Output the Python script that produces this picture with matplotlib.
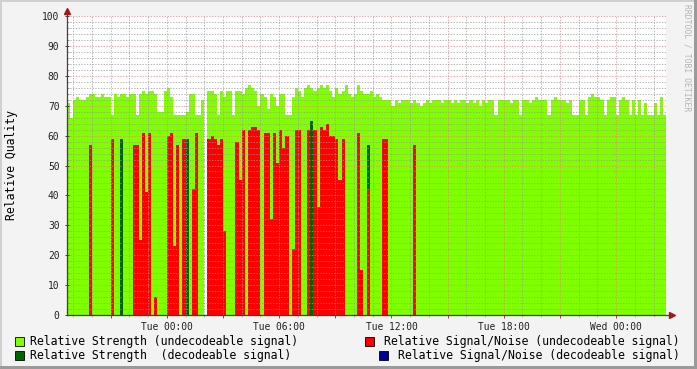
import matplotlib
matplotlib.use('Agg')
import matplotlib.pyplot as plt
import matplotlib.dates as mdates
from matplotlib.patches import Rectangle
from matplotlib.ticker import MultipleLocator, FuncFormatter
from datetime import datetime, timedelta

plt.rcParams['font.family'] = 'DejaVu Sans Mono'

# samples every 10 minutes, starting Mon 18:40
start = datetime(2024, 1, 1, 18, 40)
step_min = 10

strength_undec = [
    71, 66, 72, 73, 72, 72, 73, 74, 74, 73,
    73, 74, 73, 73, 67, 74, 73, 74, 74, 73,
    74, 74, 67, 74, 75, 74, 75, 75, 74, 68,
    68, 75, 76, 73, 67, 67, 67, 67, 68, 74,
    74, 67, 67, 72, 0, 75, 75, 74, 67, 75,
    73, 75, 75, 67, 75, 75, 74, 76, 77, 76,
    75, 70, 74, 73, 69, 74, 73, 70, 74, 74,
    67, 67, 73, 76, 75, 73, 76, 77, 76, 75,
    76, 77, 76, 77, 75, 73, 76, 74, 75, 77,
    74, 73, 74, 77, 75, 74, 74, 75, 73, 74,
    73, 72, 72, 72, 70, 72, 71, 72, 72, 72,
    71, 72, 71, 70, 71, 72, 71, 72, 72, 72,
    71, 72, 72, 71, 72, 71, 72, 72, 71, 72,
    71, 72, 70, 72, 71, 72, 72, 67, 72, 72,
    72, 72, 71, 72, 72, 67, 72, 72, 71, 72,
    73, 72, 72, 72, 67, 72, 73, 72, 72, 72,
    71, 72, 67, 67, 72, 72, 67, 73, 74, 73,
    73, 72, 67, 72, 73, 73, 67, 72, 73, 72,
    67, 72, 67, 72, 67, 71, 67, 67, 71, 67,
    73, 67,
]

snr_undec = [
    0, 0, 0, 0, 0, 0, 0, 57, 0, 0,
    0, 0, 0, 0, 59, 0, 0, 0, 0, 0,
    0, 57, 57, 25, 61, 41, 61, 0, 6, 0,
    0, 0, 60, 61, 23, 57, 0, 59, 0, 0,
    42, 61, 0, 0, 0, 59, 60, 59, 57, 59,
    28, 0, 0, 0, 58, 45, 62, 0, 62, 63,
    63, 62, 0, 61, 61, 32, 61, 51, 62, 56,
    60, 0, 22, 62, 62, 0, 0, 62, 0, 62,
    36, 63, 62, 64, 60, 60, 59, 45, 59, 0,
    0, 0, 0, 61, 15, 0, 42, 0, 0, 0,
    0, 59, 59, 0, 0, 0, 0, 0, 0, 0,
    0, 57, 0, 0, 0, 0, 0, 0, 0, 0,
    0, 0, 0, 0, 0, 0, 0, 0, 0, 0,
    0, 0, 0, 0, 0, 0, 0, 0, 0, 0,
    0, 0, 0, 0, 0, 0, 0, 0, 0, 0,
    0, 0, 0, 0, 0, 0, 0, 0, 0, 0,
    0, 0, 0, 0, 0, 0, 0, 0, 0, 0,
    0, 0, 0, 0, 0, 0, 0, 0, 0, 0,
    0, 0, 0, 0, 0, 0, 0, 0, 0, 0,
    0, 0,
]

strength_dec = [
    0, 0, 0, 0, 0, 0, 0, 0, 0, 0,
    0, 0, 0, 0, 0, 0, 0, 59, 0, 0,
    0, 0, 0, 0, 0, 0, 0, 0, 0, 0,
    0, 0, 0, 0, 0, 0, 0, 0, 59, 0,
    0, 0, 0, 0, 0, 0, 0, 0, 0, 0,
    0, 0, 0, 0, 0, 0, 0, 0, 0, 0,
    0, 0, 0, 0, 0, 0, 0, 0, 0, 0,
    0, 0, 0, 0, 0, 0, 0, 0, 65, 0,
    0, 0, 0, 0, 0, 0, 0, 0, 0, 0,
    0, 0, 0, 0, 0, 0, 57, 0, 0, 0,
    0, 0, 0, 0, 0, 0, 0, 0, 0, 0,
    0, 0, 0, 0, 0, 0, 0, 0, 0, 0,
    0, 0, 0, 0, 0, 0, 0, 0, 0, 0,
    0, 0, 0, 0, 0, 0, 0, 0, 0, 0,
    0, 0, 0, 0, 0, 0, 0, 0, 0, 0,
    0, 0, 0, 0, 0, 0, 0, 0, 0, 0,
    0, 0, 0, 0, 0, 0, 0, 0, 0, 0,
    0, 0, 0, 0, 0, 0, 0, 0, 0, 0,
    0, 0, 0, 0, 0, 0, 0, 0, 0, 0,
    0, 0,
]

labels = ['Relative Strength (undecodeable signal)',
          'Relative Signal/Noise (undecodeable signal)',
          'Relative Strength  (decodeable signal)',
          'Relative Signal/Noise (decodeable signal)']
c_light = '#80ff00'
c_red = '#ff0000'
c_dark = '#006400'
c_blue = '#00009c'

W, H = 697, 369
n = len(strength_undec)
edges = mdates.date2num([start + timedelta(minutes=step_min * i) for i in range(n + 1)])

fig = plt.figure(figsize=(W / 100, H / 100), dpi=100, facecolor='#f3f3f3')
ax = fig.add_axes([67 / W, 1 - 315 / H, 599 / W, 299 / H])
ax.set_facecolor('white')

ax.stairs(strength_undec, edges, fill=True, color=c_light, lw=0, zorder=1)
ax.stairs(strength_dec, edges, fill=True, color=c_dark, lw=0, zorder=1.1)
ax.stairs(snr_undec, edges, fill=True, color=c_red, lw=0, zorder=1.2)

ax.set_xlim(edges[0], edges[-1])
ax.set_ylim(0, 100)

ax.xaxis.set_major_locator(mdates.HourLocator(byhour=range(0, 24, 3)))
ax.xaxis.set_minor_locator(mdates.HourLocator())
ax.xaxis.set_major_formatter(FuncFormatter(
    lambda v, p: mdates.num2date(v).strftime('%a %H:%M') if mdates.num2date(v).hour % 6 == 0 else ''))
ax.yaxis.set_major_locator(MultipleLocator(10))
ax.yaxis.set_minor_locator(MultipleLocator(2))

# dotted grid drawn over the areas, like rrdtool
ax.set_axisbelow(False)
ax.grid(which='major', color=(0.95, 0.5, 0.5, 0.45), linestyle=(0, (2, 2)), lw=0.5)
ax.grid(which='minor', color=(0.6, 0.6, 0.6, 0.4), linestyle=(0, (2, 2)), lw=0.5)

ax.tick_params(axis='y', which='major', length=3, width=0.7, direction='inout',
               color='#404040', pad=4, labelsize=6.9, labelcolor='#222222')
ax.tick_params(axis='y', which='minor', length=1.5, width=0.6, direction='in', color='#909090')
ax.tick_params(axis='x', which='major', length=2.2, width=0.7, direction='out',
               color='#a04040', pad=2.5, labelsize=6.9, labelcolor='#222222')
ax.tick_params(axis='x', which='minor', length=1.2, width=0.5, direction='out', color='#a0a0a0')
for s in ax.spines.values():
    s.set_visible(False)

# axis lines with arrows
ax.plot([0, 0], [0, 1.02], transform=ax.transAxes, color='#404040', lw=0.9, clip_on=False, zorder=5)
ax.plot([0, 1.01], [0, 0], transform=ax.transAxes, color='#404040', lw=0.9, clip_on=False, zorder=5)
ax.plot([0], [1.018], marker='^', ms=4.2, color='#a01818', transform=ax.transAxes, clip_on=False, zorder=6)
ax.plot([1.01], [0], marker='>', ms=4.2, color='#a01818', transform=ax.transAxes, clip_on=False, zorder=6)

fig.text(12 / W, 1 - 165 / H, 'Relative Quality', rotation=90, va='center', ha='center', fontsize=8.3)
fig.text(687 / W, 1 - 4 / H, 'RRDTOOL / TOBI OETIKER', rotation=270, va='top', ha='center',
         fontsize=5.8, color='#b4b4b4')

# legend
rows = [341, 355]
items = [(15, rows[0], c_light, labels[0], 'left', 30),
         (365, rows[0], c_red, labels[1], 'right', 680),
         (15, rows[1], c_dark, labels[2], 'left', 30),
         (379, rows[1], c_blue, labels[3], 'right', 680)]
for bx, by, col, lab, ha, tx in items:
    fig.add_artist(Rectangle((bx / W, 1 - (by + 5) / H), 9 / W, 9 / H, transform=fig.transFigure,
                             facecolor=col, edgecolor='black', lw=0.6))
    fig.text(tx / W, 1 - by / H, lab, va='center', ha=ha, fontsize=8.3)

# 3d frame
fig.add_artist(Rectangle((0, 0), 2 / W, 1, transform=fig.transFigure, color='#d0d0d0', lw=0))
fig.add_artist(Rectangle((0, 1 - 2 / H), 1, 2 / H, transform=fig.transFigure, color='#d0d0d0', lw=0))
fig.add_artist(Rectangle((1 - 3 / W, 0), 3 / W, 1, transform=fig.transFigure, color='#9a9a9a', lw=0))
fig.add_artist(Rectangle((0, 0), 1, 3 / H, transform=fig.transFigure, color='#9a9a9a', lw=0))

fig.savefig('out.png', dpi=100, facecolor=fig.get_facecolor())
